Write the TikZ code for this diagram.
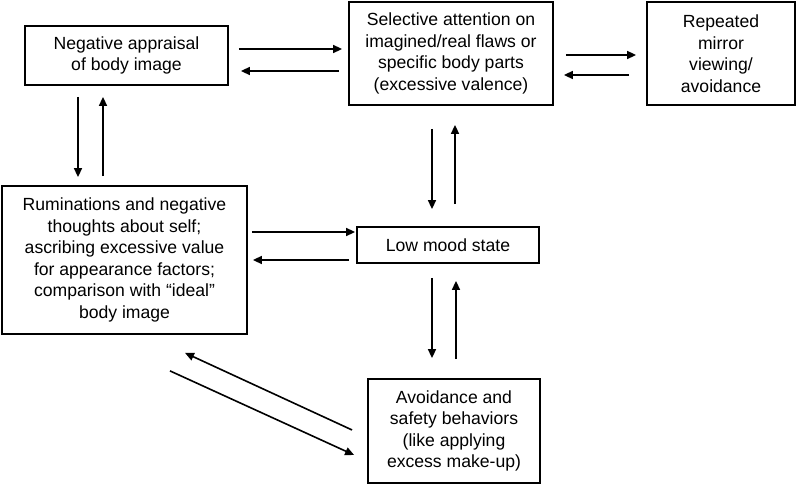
\documentclass[tikz,border=0pt]{standalone}
\usepackage{fontspec}
\setmainfont{Liberation Sans}
\usetikzlibrary{arrows.meta}

\begin{document}
\begin{tikzpicture}[x=1pt, y=-1pt,
    box/.style={draw, line width=1.8pt, rectangle, align=center, inner sep=0pt,
      font=\fontsize{17.6}{21.5}\selectfont},
    arr/.style={line width=1.6pt, -{Triangle[length=9pt, width=8pt]}}]
            \useasboundingbox (0,0) rectangle (796,484);

            \node [box, minimum width=203pt, minimum height=59pt] (neg) at (126.5,55.5) {Negative appraisal\\of body image};
            \node [box, minimum width=204pt, minimum height=103pt] (sel) at (451,53.5) {Selective attention on\\imagined/real flaws or\\specific body parts\\(excessive valence)};
            \node [box, minimum width=148pt, minimum height=103pt] (mir) at (721,53.5) {Repeated\\mirror\\viewing/\\avoidance};
            \node [box, minimum width=245pt, minimum height=148pt] (rum) at (124.5,260) {Ruminations and negative\\thoughts about self;\\ascribing excessive value\\for appearance factors;\\comparison with “ideal”\\body image};
            \node [box, minimum width=182pt, minimum height=36pt] (low) at (448,245) {Low mood state};
            \node [box, minimum width=172pt, minimum height=104pt] (avo) at (454,431) {Avoidance and\\safety behaviors\\(like applying\\excess make-up)};

            % top row
            \draw [arr] ([xshift=10pt,yshift=6.5pt]neg.east) -- ([xshift=-6pt,yshift=4.5pt]sel.west);
            \draw [arr] ([xshift=-9pt,yshift=-17.5pt]sel.west) -- ([xshift=12pt,yshift=-15.5pt]neg.east);
            \draw [arr] ([xshift=12pt,yshift=-1.5pt]sel.east) -- ([xshift=-10pt,yshift=-1.5pt]mir.west);
            \draw [arr] ([xshift=-17pt,yshift=-21.5pt]mir.west) -- ([xshift=10pt,yshift=-21.5pt]sel.east);

            % vertical pairs
            \draw [arr] ([xshift=-48.5pt,yshift=-11pt]neg.south) -- ([xshift=-46.5pt,yshift=8pt]rum.north);
            \draw [arr] ([xshift=-21.5pt,yshift=9pt]rum.north) -- ([xshift=-23.5pt,yshift=-11pt]neg.south);
            \draw [arr] ([xshift=-19pt,yshift=-23pt]sel.south) -- ([xshift=-16pt,yshift=17pt]low.north);
            \draw [arr] ([xshift=7pt,yshift=22pt]low.north) -- ([xshift=4pt,yshift=-19pt]sel.south);
            \draw [arr] ([xshift=-16pt,yshift=-14pt]low.south) -- ([xshift=-22pt,yshift=20pt]avo.north);
            \draw [arr] ([xshift=2pt,yshift=19pt]avo.north) -- ([xshift=8pt,yshift=-17pt]low.south);

            % middle and diagonals
            \draw [arr] ([xshift=4pt,yshift=28pt]rum.east) -- ([xshift=-1pt,yshift=13pt]low.west);
            \draw [arr] ([xshift=-7pt,yshift=-15pt]low.west) -- ([xshift=5pt]rum.east);
            \draw [arr] ([xshift=-15pt,yshift=1pt]avo.west) -- ([xshift=60.5pt,yshift=-18pt]rum.south);
            \draw [arr] ([xshift=45.5pt,yshift=-36pt]rum.south) -- ([xshift=-13pt,yshift=-24pt]avo.west);
        \end{tikzpicture}
\end{document}
